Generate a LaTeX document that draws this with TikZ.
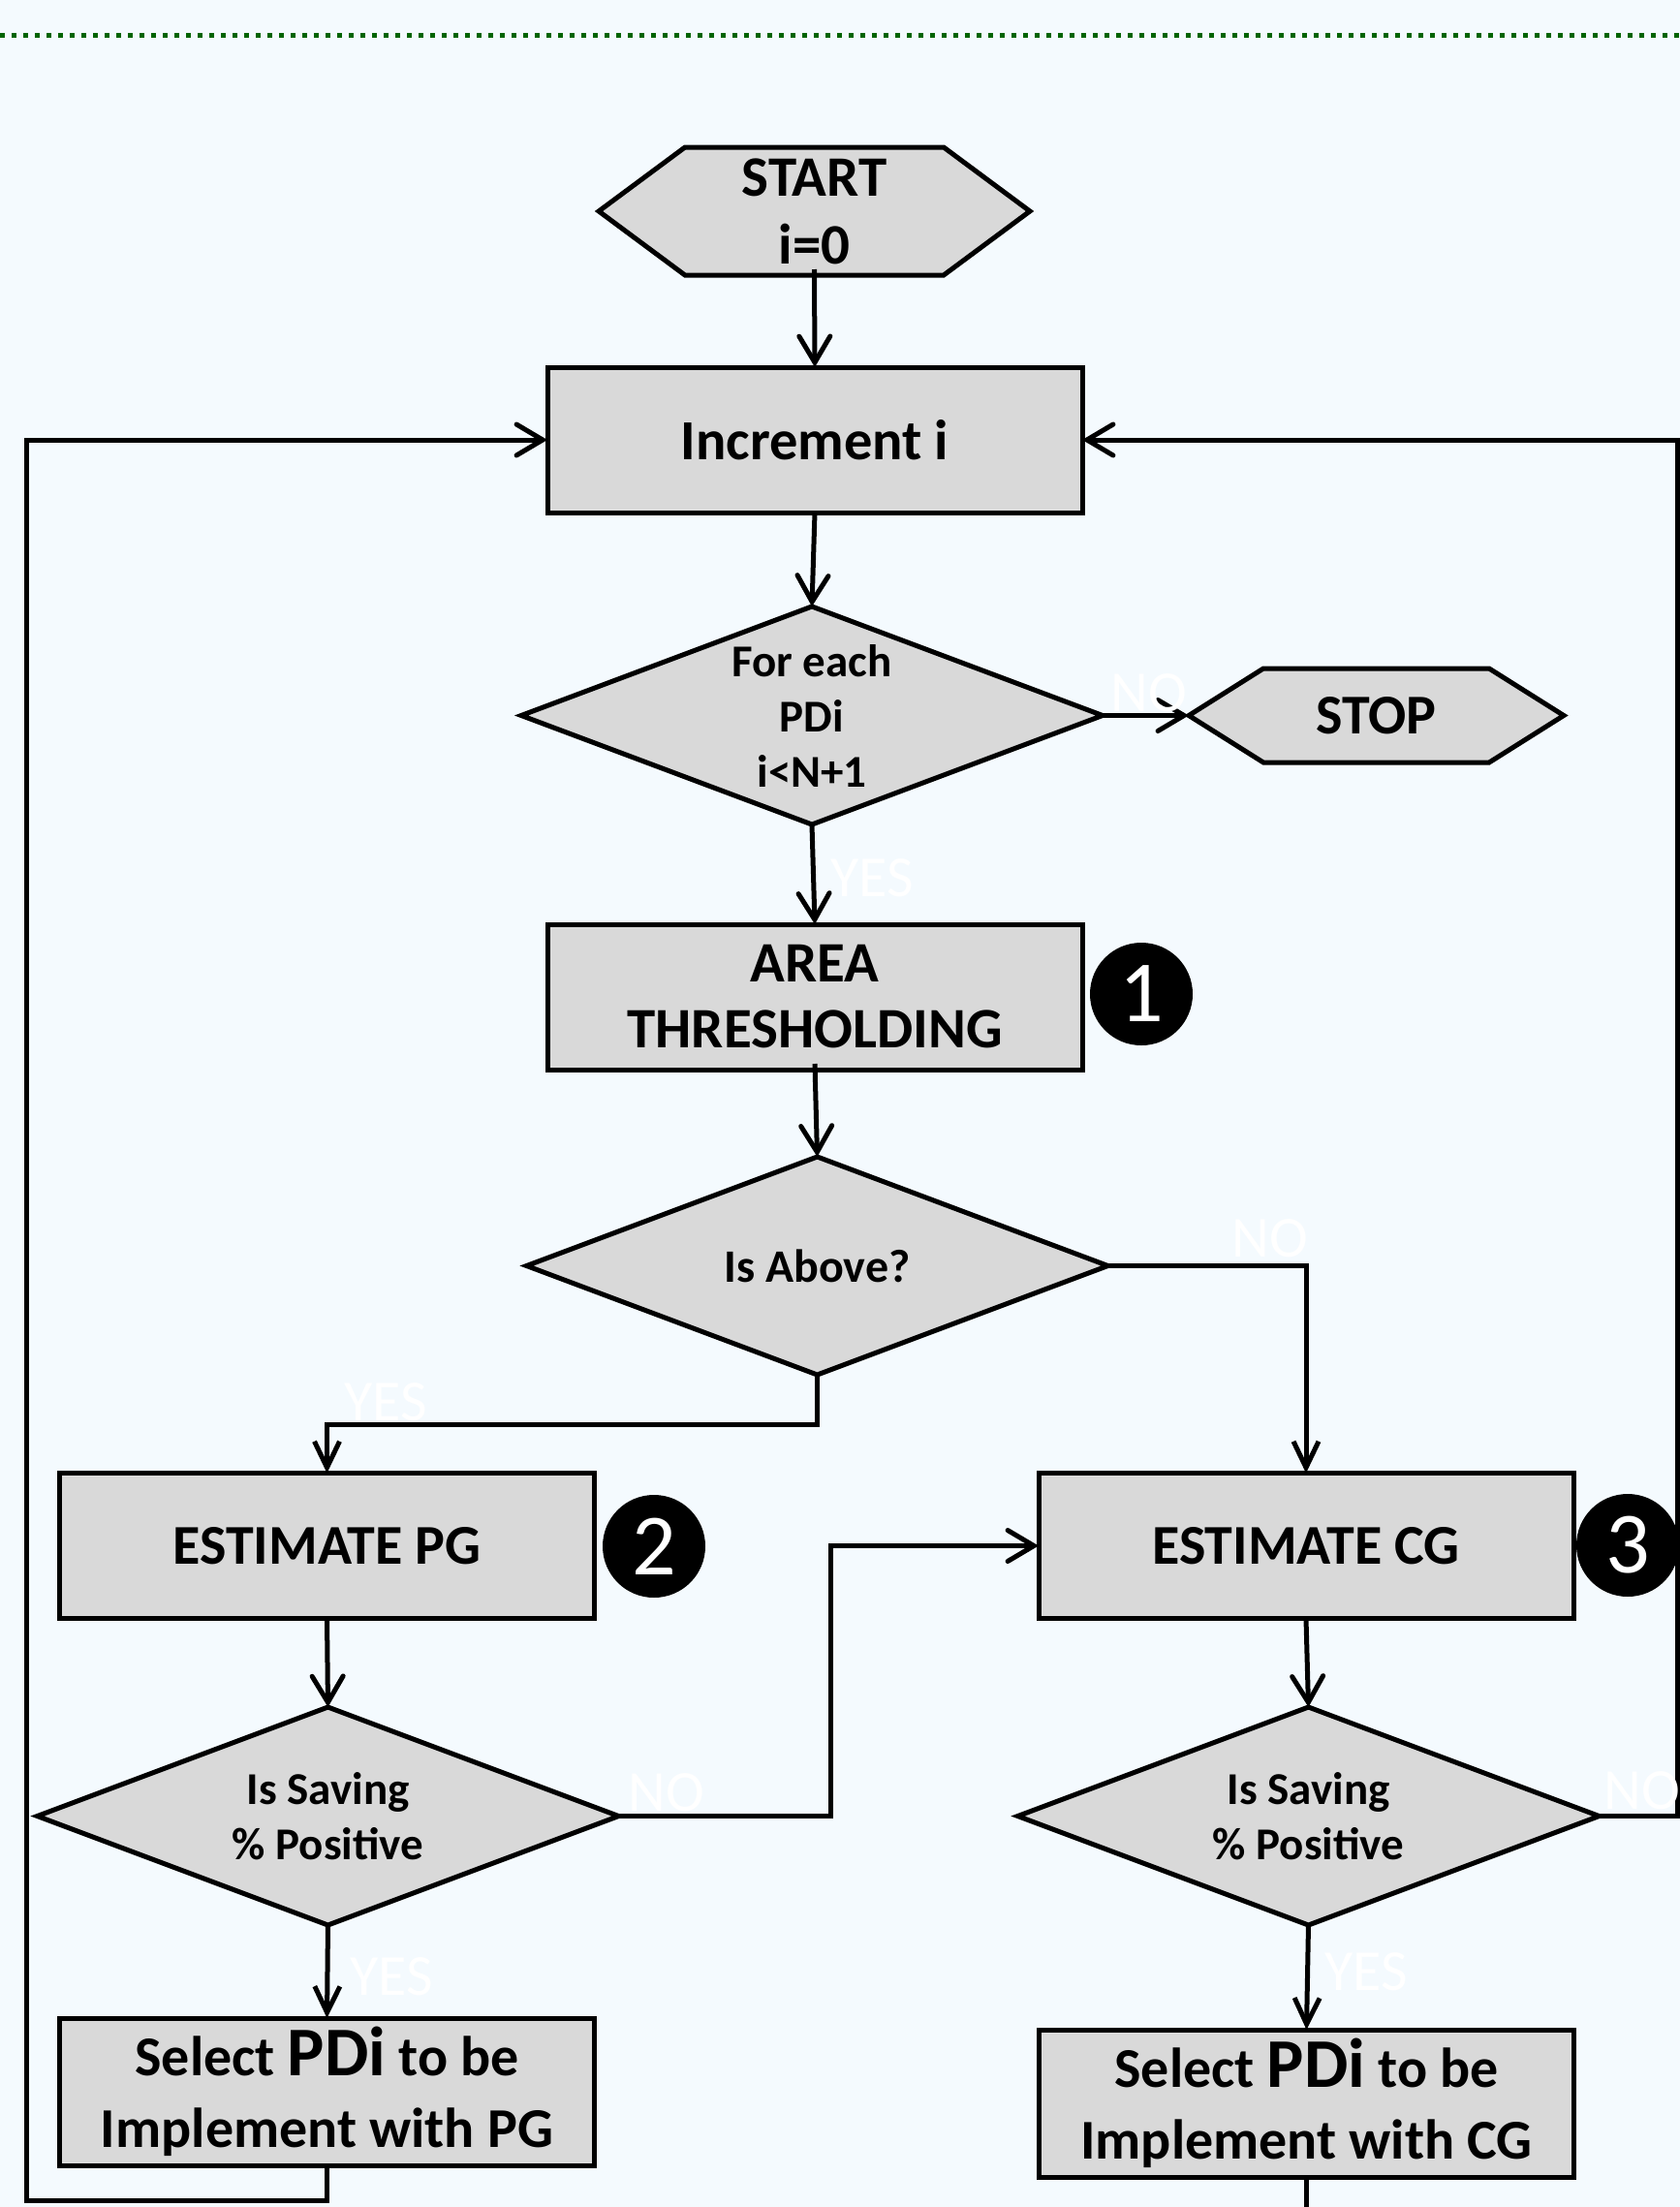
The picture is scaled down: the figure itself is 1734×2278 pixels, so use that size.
\documentclass[tikz,border=0pt]{standalone}
\usepackage{fontspec}
\setmainfont{Carlito}
\usetikzlibrary{arrows.meta,shapes.geometric,calc}
\definecolor{bgc}{RGB}{244,250,254}
\definecolor{boxc}{RGB}{217,217,217}
\definecolor{dotc}{RGB}{0,100,0}
\pgfdeclarelayer{bglayer}
\pgfsetlayers{bglayer,main}
\tikzset{
 base/.style={draw=black, fill=boxc, line width=5pt, inner sep=0pt, outer sep=0pt, align=center, text=black},
 procbox/.style={base, rectangle, minimum width=552pt, minimum height=150pt},
 decis/.style={base, diamond, aspect=2.667, minimum width=600pt, minimum height=225pt},
 hexnode/.style={inner sep=0pt, outer sep=0pt, align=center, text=black},
 hexline/.style={draw=black, fill=boxc, line width=5pt},
 conn/.style={line width=5pt},
 arrA/.style={conn, -{Straight Barb[length=27pt,width=32pt,line cap=round]}},
 arrB/.style={conn, -{Straight Barb[length=27pt,width=26pt]}},
 badge/.style={circle, fill=black, text=white, minimum size=106pt, inner sep=0pt, font=\fontsize{90}{90}\selectfont},
 lab/.style={text=white, font=\fontsize{60}{60}\selectfont, inner sep=0pt},
}
\begin{document}
\begin{tikzpicture}[x=1pt,y=-1pt]
\useasboundingbox (0,0) rectangle (1734,2278);
\begin{pgfonlayer}{bglayer}
\fill[bgc] (0,0) rectangle (1734,2278);
\end{pgfonlayer}
\begin{scope}
\clip (0,0) rectangle (1734,2278);
\draw[dotc, line width=5pt, dash pattern=on 5pt off 7pt] (0,36) -- (1734,36);

% start / stop
\node[hexnode, minimum width=445pt, minimum height=132pt, font=\fontsize{59}{70}\selectfont\bfseries] (start) at (840.5,218) {START\\i=0};
\node[hexnode, minimum width=387pt, minimum height=97pt, font=\fontsize{58}{58}\selectfont\bfseries] (stop) at (1420.5,738.5) {STOP};
\begin{pgfonlayer}{bglayer}
\draw[hexline] (start.west) -- ([xshift=89pt]start.north west) -- ([xshift=-89pt]start.north east) -- (start.east) -- ([xshift=-89pt]start.south east) -- ([xshift=89pt]start.south west) -- cycle;
\draw[hexline] (stop.west) -- ([xshift=77pt]stop.north west) -- ([xshift=-77pt]stop.north east) -- (stop.east) -- ([xshift=-77pt]stop.south east) -- ([xshift=77pt]stop.south west) -- cycle;
\end{pgfonlayer}

% process boxes
\node[procbox, font=\fontsize{58.5}{68}\selectfont\bfseries] (inc) at (841,454) {Increment i};
\node[procbox, font=\fontsize{59}{68}\selectfont\bfseries] (area) at (841,1029) {AREA\\THRESHOLDING};
\node[procbox, font=\fontsize{58}{68}\selectfont\bfseries] (pg) at (337.5,1595.5) {ESTIMATE PG};
\node[procbox, font=\fontsize{58}{68}\selectfont\bfseries] (cg) at (1348,1595.5) {ESTIMATE CG};
\node[procbox, minimum height=152pt, font=\fontsize{58}{74}\selectfont\bfseries] (selpg) at (337.5,2159) {Select {\fontsize{72}{74}\selectfont PDi} to be\\Implement with PG};
\node[procbox, minimum height=152pt, font=\fontsize{58}{74}\selectfont\bfseries] (selcg) at (1348.5,2171) {Select {\fontsize{72}{74}\selectfont PDi} to be\\Implement with CG};

% decisions
\node[decis, font=\fontsize{47}{57}\selectfont\bfseries] (d1) at (838,738.5) {For each\\PDi\\i<N+1};
\node[decis, font=\fontsize{48}{57}\selectfont\bfseries] (d2) at (843.5,1306.5) {Is Above?};
\node[decis, font=\fontsize{47}{57}\selectfont\bfseries] (d3) at (338.5,1874.5) {Is Saving\\\% Positive};
\node[decis, font=\fontsize{47}{57}\selectfont\bfseries] (d4) at (1350.5,1874.5) {Is Saving\\\% Positive};

% badges
\node[badge] (b1) at (1178,1026) {1};
\node[badge] (b2) at (675,1596) {2};
\node[badge] (b3) at (1680,1595) {3};

% bend points
\coordinate (j1) at (337.5,1470);
\coordinate (j2) at (857,1595.5);
\coordinate (j3) at (1731,454);
\coordinate (j4) at (27,2271);
\coordinate (j5) at (1348.5,2300);

% connectors
\draw[arrA] ([yshift=6pt]start.south) -- (inc.north);
\draw[arrA] (inc.south) -- (d1.north);
\draw[arrA] (d1.east) -- (stop.west);
\draw[arrA] (d1.south) -- (area.north);
\draw[arrA] ([yshift=6pt]area.south) -- (d2.north);
\draw[arrB] (d2.east) -| (cg.north);
\draw[arrB] (d2.south) |- (j1) -- (pg.north);
\draw[arrA] (pg.south) -- (d3.north);
\draw[arrA] (cg.south) -- (d4.north);
\draw[arrA] (d3.east) -| (j2) -- (cg.west);
\draw[arrB] (d3.south) -- (selpg.north);
\draw[arrB] (d4.south) -- (selcg.north);
\draw[arrA] (d4.east) -| (j3) -- (inc.east);
\draw[arrA] (selpg.south) |- (j4) |- (inc.west);
\draw[conn] (selcg.south) -- (j5);

% white labels
\node[lab] (l1) at (1186,715) {NO};
\node[lab] (l2) at (900,906) {YES};
\node[lab] (l3) at (1311,1278) {NO};
\node[lab] (l4) at (398,1447) {YES};
\node[lab] (l5) at (688,1850) {NO};
\node[lab] (l6) at (1695,1848) {NO};
\node[lab] (l7) at (404,2040) {YES};
\node[lab] (l8) at (1410,2035) {YES};
\end{scope}
\end{tikzpicture}
\end{document}
